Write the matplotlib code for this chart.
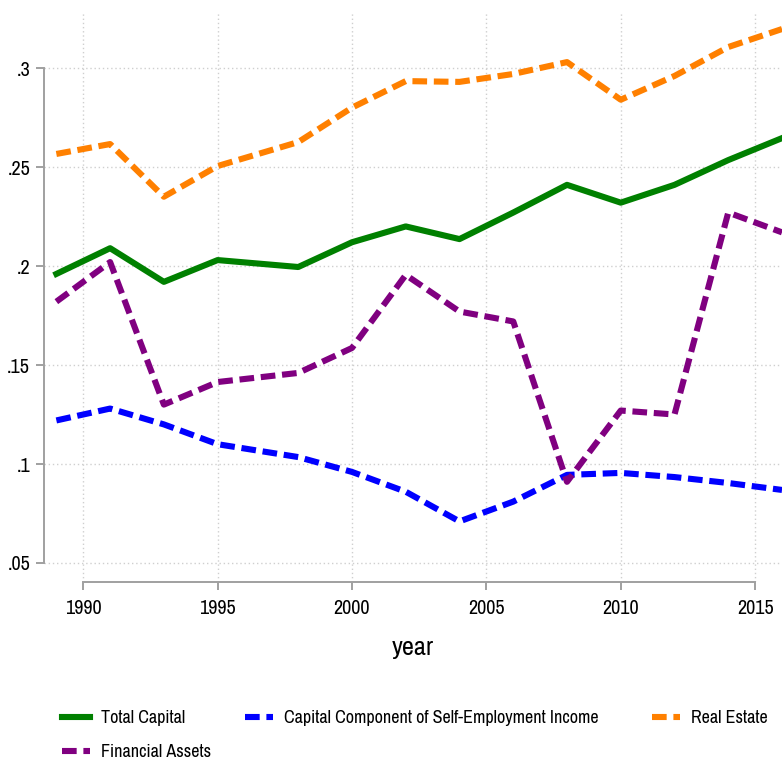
import matplotlib
matplotlib.use("Agg")
import matplotlib.pyplot as plt

# Data
years = [1989, 1991, 1993, 1995, 1998, 2000, 2002, 2004, 2006, 2008, 2010, 2012, 2014, 2016]
total_capital = [0.196, 0.209, 0.192, 0.203, 0.1995, 0.212, 0.220, 0.2136, 0.227, 0.241, 0.232, 0.241, 0.2535, 0.2646]
self_employment = [0.122, 0.128, 0.120, 0.110, 0.1035, 0.096, 0.086, 0.071, 0.081, 0.0945, 0.0955, 0.0934, 0.0904, 0.0869]
real_estate = [0.2566, 0.2616, 0.235, 0.2505, 0.2626, 0.280, 0.2934, 0.293, 0.297, 0.303, 0.284, 0.296, 0.3106, 0.3197]
financial_assets = [0.182, 0.202, 0.130, 0.1414, 0.146, 0.1586, 0.1955, 0.177, 0.172, 0.091, 0.127, 0.125, 0.227, 0.217]

x_ticks = [1990, 1995, 2000, 2005, 2010, 2015]
y_ticks = [0.05, 0.1, 0.15, 0.2, 0.25, 0.3]
y_tick_labels = [".05", ".1", ".15", ".2", ".25", ".3"]

# narrow Helvetica-like look, falls back to regular sans if missing
plt.rcParams['font.family'] = ['Archivo Narrow', 'Liberation Sans', 'DejaVu Sans']

fig = plt.figure(figsize=(7.82, 7.60), dpi=100)
ax = fig.add_axes([44 / 782, (760 - 582) / 760, 1 - 44 / 782, (582 - 12) / 760])

lw = 4.4
dash = (2.4, 1.1)
l_tc, = ax.plot(years, total_capital, color='#008000', lw=lw, label='Total Capital', zorder=3)
l_se, = ax.plot(years, self_employment, color='#0000ff', lw=lw, dashes=dash,
                label='Capital Component of Self-Employment Income', zorder=3)
l_re, = ax.plot(years, real_estate, color='#ff8000', lw=lw, dashes=dash,
                label='Real Estate', zorder=3)
l_fa, = ax.plot(years, financial_assets, color='#800080', lw=lw, dashes=dash,
                label='Financial Assets', zorder=3)

ax.set_xlim(1988.54, 2016)
ax.set_ylim(0.0404, 0.3283)

ax.set_xticks(x_ticks)
ax.set_xticklabels([str(y) for y in x_ticks])
ax.set_yticks(y_ticks)
ax.set_yticklabels(y_tick_labels)

ax.grid(True, color='#cfcfcf', linestyle=(0, (1, 2)), lw=1.0, zorder=0)

for side in ['top', 'right']:
    ax.spines[side].set_visible(False)
ax.spines['left'].set_bounds(0.05, 0.3)
ax.spines['bottom'].set_bounds(1990, 2015)
for side in ['left', 'bottom']:
    ax.spines[side].set_color('#a0a0a0')
    ax.spines[side].set_linewidth(1.4)

ax.tick_params(axis='both', colors='#a0a0a0', length=6, width=1.4, labelsize=14.5,
               labelcolor='black')
ax.tick_params(axis='y', pad=4)
ax.tick_params(axis='x', pad=6)

ax.set_xlabel('year', fontsize=19, labelpad=13)

# legend: first two columns, then Real Estate placed on its own at the right
leg_kw = dict(frameon=False, borderpad=0, borderaxespad=0, fontsize=13,
              handlelength=1.55, handletextpad=0.6, labelspacing=1.0)
handles = [l_tc, l_fa, l_se]
fig.legend(handles, [h.get_label() for h in handles],
           loc='upper left', bbox_to_anchor=(62 / 782, 1 - 710 / 760),
           ncol=2, columnspacing=1.9, **leg_kw)
fig.legend([l_re], [l_re.get_label()],
           loc='upper left', bbox_to_anchor=(652 / 782, 1 - 710 / 760), **leg_kw)

fig.savefig('out.png', dpi=100)
